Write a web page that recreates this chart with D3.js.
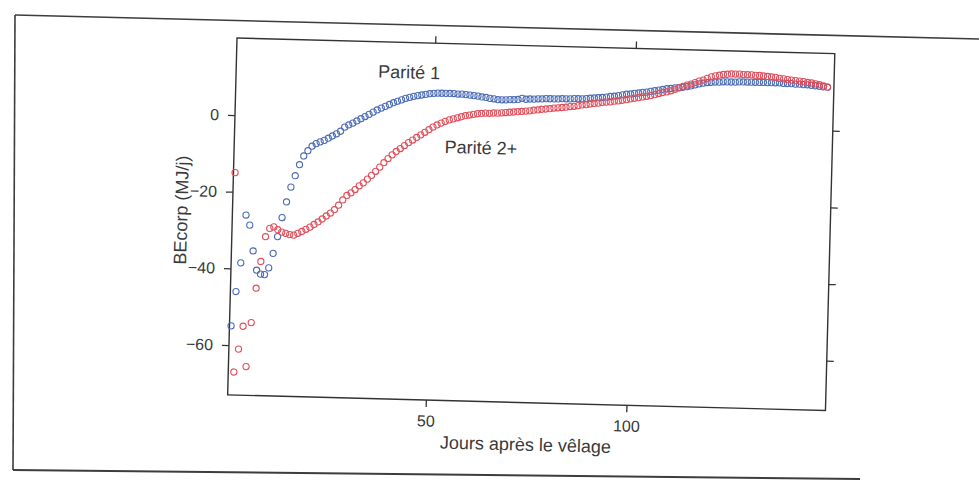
<!DOCTYPE html>
<html>
    <head>
        <meta charset="utf-8">
        <script type="text/javascript" src="https://d3js.org/d3.v7.min.js" charset="utf-8"></script>
        <style>
            body { margin: 0; background: #fff; }
            svg { display: block; }
        </style>
    </head>
    <body>
        <script>
            const WIDTH = 979;
            const HEIGHT = 488;

            // plot box, drawn straight then tilted a little like the scanned page
            const LEFT = 237;
            const TOP = 38;
            const PLOT_W = 598;
            const PLOT_H = 357;
            const TILT = 1.5; // degrees

            const TEXT_COLOR = '#3a3a3a';
            const LINE_COLOR = '#333';
            const BLUE = '#4d6db5';
            const RED = '#e0505c';
            const FONT = '"Liberation Sans", Arial, sans-serif';

            const X_DOMAIN = [0.6, 149.6];
            const Y_DOMAIN = [-73, 20.1];
            const X_TICKS = [50, 100];
            const Y_TICKS = [0, -20, -40, -60];

            const X_TITLE = 'Jours après le vêlage';
            const Y_TITLE = 'BEcorp (MJ/j)';

            // first value is day 1, one value per day
            const FIRST_DAY = 1;

            const PARITE_1 = [
                -55, -46, -38.5, -26, -28.6, -35.3, -40.3, -41.3, -41.4, -39.6,
                -35.8, -31.4, -26.4, -22.3, -18.4, -15.4, -12.5, -10.2, -8.8, -7.6,
                -6.9, -6.4, -6.0, -5.4, -4.8, -4.2, -3.5, -2.4, -1.8, -1.3,
                -0.7, -0.1, 0.5, 1.1, 1.7, 2.3, 2.8, 3.3, 3.8, 4.3,
                4.7, 5.1, 5.5, 5.8, 6.1, 6.3, 6.5, 6.7, 6.9, 7.0,
                7.1, 7.1, 7.1, 7.1, 7.1, 7.0, 7.0, 6.9, 6.8, 6.7,
                6.6, 6.4, 6.3, 6.1, 6.0, 5.8, 5.8, 5.8, 5.9, 5.9,
                6.0, 6.3, 6.1, 6.2, 6.2, 6.3, 6.3, 6.4, 6.4, 6.4,
                6.4, 6.5, 6.5, 6.5, 6.6, 6.6, 6.6, 6.7, 6.8, 6.9,
                7.0, 7.1, 7.2, 7.4, 7.5, 7.7, 7.9, 8.1, 8.2, 8.4,
                8.5, 8.7, 8.8, 9.0, 9.2, 9.4, 9.6, 9.8, 9.9, 10.1,
                10.2, 10.3, 10.5, 10.7, 11.0, 11.3, 11.5, 11.7, 11.8, 11.9,
                11.9, 12.0, 12.0, 12.0, 12.0, 12.1, 12.1, 12.1, 12.1, 12.1,
                12.1, 12.1, 12.1, 12.1, 12.1, 12.1, 12.0, 12.0, 12.0, 11.9,
                11.9, 11.8, 11.8, 11.7, 11.6, 11.5, 11.4, 11.3
            ];

            const PARITE_2 = [
                -15, -67, -61, -55, -65.5, -54, -45, -38, -31.5, -29.3,
                -28.9, -29.6, -30.2, -30.5, -30.8, -30.9, -30.4, -29.9, -29.3, -28.7,
                -28.0, -27.3, -26.5, -25.7, -24.9, -24.0, -22.8, -21.4, -20.2, -19.5,
                -18.6, -17.6, -16.8, -15.8, -14.8, -13.7, -12.6, -11.4, -10.3, -9.3,
                -8.4, -7.6, -6.8, -6.0, -5.3, -4.6, -3.9, -3.2, -2.5, -1.8,
                -1.2, -0.7, -0.2, 0.2, 0.5, 0.8, 1.1, 1.4, 1.6, 1.8,
                2.0, 2.1, 2.2, 2.2, 2.3, 2.3, 2.4, 2.5, 2.6, 2.7,
                2.8, 2.9, 3.0, 3.1, 3.3, 3.4, 3.6, 3.7, 3.8, 4.0,
                4.1, 4.2, 4.3, 4.5, 4.6, 4.8, 5.0, 5.1, 5.3, 5.5,
                5.6, 5.8, 5.9, 6.0, 6.2, 6.3, 6.5, 6.7, 6.9, 7.1,
                7.3, 7.5, 7.7, 7.9, 8.2, 8.5, 8.8, 9.0, 9.3, 9.7,
                10.1, 10.5, 10.9, 11.2, 11.6, 12.0, 12.3, 12.8, 13.2, 13.5,
                13.7, 13.9, 14.0, 14.1, 14.1, 14.1, 14.0, 14.0, 14.0, 13.9,
                13.9, 13.8, 13.7, 13.6, 13.5, 13.3, 13.2, 13.0, 12.9, 12.8,
                12.7, 12.6, 12.4, 12.3, 12.1, 11.9, 11.6, 11.3
            ];

            // series label: text, day, value where the label is centred
            const LABELS = [
                { text: 'Parité 1', day: 43.7, value: 12.3 },
                { text: 'Parité 2+', day: 62.1, value: -6.9 }
            ];

            const svg = d3.select('body')
            .append('svg')
            .attr('width', WIDTH)
            .attr('height', HEIGHT)
            .style('font-family', FONT);

            svg.append('rect')
            .attr('width', WIDTH)
            .attr('height', HEIGHT)
            .attr('fill', '#fff');

            // page frame around the figure
            let frame = svg.append('g')
            .attr('fill', 'none')
            .attr('stroke', '#3d3d3d')
            .attr('stroke-width', 1.6);
            frame.append('path').attr('d', 'M15,15 L979,39');
            frame.append('path').attr('d', 'M15,15 L13,470');
            frame.append('path').attr('d', 'M13,470 L860,479').attr('stroke-width', 2);

            let chart = svg.append('g')
            .attr('transform', 'translate(' + LEFT + ',' + TOP + ') rotate(' + TILT + ')');

            let xScale = d3.scaleLinear()
            .domain(X_DOMAIN)
            .range([0, PLOT_W]);
            let yScale = d3.scaleLinear()
            .domain(Y_DOMAIN)
            .range([PLOT_H, 0]);

            function styleAxis(g)
            {
                g.select('.domain').remove();
                g.selectAll('.tick line')
                .attr('stroke', LINE_COLOR)
                .attr('stroke-width', 1.3);
                g.selectAll('.tick text')
                .attr('fill', TEXT_COLOR)
                .style('font-family', FONT)
                .style('font-size', '16px');
            }

            chart.append('g')
            .attr('transform', 'translate(0,' + PLOT_H + ')')
            .call(d3.axisBottom(xScale).tickValues(X_TICKS).tickSize(7).tickPadding(8))
            .call(styleAxis);
            chart.append('g')
            .call(d3.axisTop(xScale).tickValues(X_TICKS).tickSize(7).tickFormat(''))
            .call(styleAxis);
            chart.append('g')
            .call(d3.axisLeft(yScale).tickValues(Y_TICKS).tickSize(7).tickPadding(9))
            .call(styleAxis);
            chart.append('g')
            .attr('transform', 'translate(' + PLOT_W + ',0)')
            .call(d3.axisRight(yScale).tickValues(Y_TICKS).tickSize(7).tickFormat(''))
            .call(styleAxis);

            chart.append('rect')
            .attr('width', PLOT_W)
            .attr('height', PLOT_H)
            .attr('fill', 'none')
            .attr('stroke', LINE_COLOR)
            .attr('stroke-width', 1.4);

            function drawSeries(values, color)
            {
                chart.append('g')
                .selectAll('circle')
                .data(values)
                .enter()
                .append('circle')
                .attr('cx', function(d, i){ return xScale(FIRST_DAY + i); })
                .attr('cy', function(d){ return yScale(d); })
                .attr('r', 3.1)
                .attr('fill', 'none')
                .attr('stroke', color)
                .attr('stroke-width', 1.1);
            }

            drawSeries(PARITE_1, BLUE);
            drawSeries(PARITE_2, RED);

            chart.selectAll('.series-label')
            .data(LABELS)
            .enter()
            .append('text')
            .attr('class', 'series-label')
            .attr('x', function(d){ return xScale(d.day); })
            .attr('y', function(d){ return yScale(d.value); })
            .attr('text-anchor', 'middle')
            .attr('dominant-baseline', 'central')
            .attr('fill', TEXT_COLOR)
            .style('font-size', '18px')
            .text(function(d){ return d.text; });

            chart.append('text')
            .attr('x', PLOT_W / 2)
            .attr('y', PLOT_H + 48)
            .attr('text-anchor', 'middle')
            .attr('fill', TEXT_COLOR)
            .style('font-size', '18px')
            .text(X_TITLE);

            chart.append('text')
            .attr('transform', 'translate(-51,' + (PLOT_H / 2 - 5) + ') rotate(-90)')
            .attr('text-anchor', 'middle')
            .attr('dominant-baseline', 'central')
            .attr('fill', TEXT_COLOR)
            .style('font-size', '18px')
            .text(Y_TITLE);
        </script>
    </body>
</html>
